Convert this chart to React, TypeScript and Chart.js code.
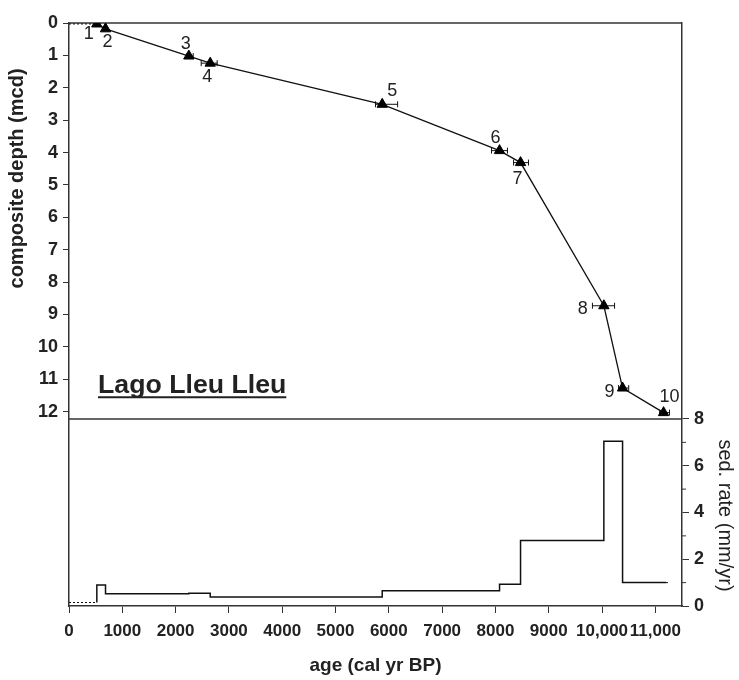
import React, { useEffect, useRef } from "react";
import { Chart, registerables } from "chart.js";

Chart.register(...registerables);

// ---------- data ----------
const sampleIds = ["1", "2", "3", "4", "5", "6", "7", "8", "9", "10"];
const ageCalBP = [522, 685, 2248, 2649, 5876, 8077, 8471, 10034, 10385, 11154];
const depthMcd = [0.03, 0.18, 1.02, 1.24, 2.51, 3.94, 4.31, 8.73, 11.27, 12.03];
const ageErrLow = [522, 685, 2210, 2480, 5750, 7926, 8340, 9820, 10310, 11080];
const ageErrHigh = [522, 685, 2330, 2780, 6165, 8226, 8620, 10235, 10500, 11265];

// extrapolated top (dotted)
const topExtrapAge = [0, 522];
const topExtrapDepth = [0.03, 0.03];

// sedimentation rate steps (value holds from each age to the next)
const rateAge = [522, 522, 685, 2248, 2649, 5876, 8077, 8471, 10034, 10385, 11200];
const rateValue = [0.15, 0.9, 0.52, 0.55, 0.38, 0.65, 0.93, 2.8, 7.05, 1.0, 1.0];
const rateHeadAge = [0, 522];
const rateHeadValue = [0.15, 0.15];
const rateTailAge = [11200, 11270];
const rateTailValue = [1.0, 1.0];

// ticks
const depthTicks = [0, 1, 2, 3, 4, 5, 6, 7, 8, 9, 10, 11, 12];
const ageTicks = [0, 1000, 2000, 3000, 4000, 5000, 6000, 7000, 8000, 9000, 10000, 11000];
const rateTicks = [0, 2, 4, 6, 8];
const rateMinorTicks = [1, 3, 5, 7];

// texts
const lakeName = "Lago Lleu Lleu";
const xTitle = "age (cal yr BP)";
const yTitle = "composite depth (mcd)";
const y2Title = "sed. rate (mm/yr)";

// label offsets (px) relative to each point
const labelOffsets: [number, number][] = [
  [-8, 10], [2, 13], [-3, -12], [-3, 14], [10, -13],
  [-4, -13], [-3, 16], [-21, 3], [-13, 4], [6, -16],
];

const FONT = "'Liberation Sans', Arial, Helvetica, sans-serif";
const INK = "#222";
const AXIS = "#333";

const pts = (xs: number[], ys: number[]) => xs.map((x, i) => ({ x, y: ys[i] }));

const decorPlugin = {
  id: "decor",
  beforeDatasetsDraw(chart: any) {
    const { ctx, chartArea, scales } = chart;
    const x = scales.x, yd = scales.yDepth, yr = scales.yRate;
    ctx.save();
    ctx.strokeStyle = AXIS;
    ctx.lineWidth = 1.5;
    ctx.beginPath();
    ctx.moveTo(chartArea.left, chartArea.top);
    ctx.lineTo(chartArea.right, chartArea.top);
    ctx.stroke();
    const yDiv = yr.getPixelForValue(rateTicks[rateTicks.length - 1]);
    ctx.beginPath();
    ctx.moveTo(chartArea.left, yDiv);
    ctx.lineTo(chartArea.right, yDiv);
    ctx.stroke();
    ctx.lineWidth = 1;
    rateMinorTicks.forEach((v) => {
      const py = yr.getPixelForValue(v);
      ctx.beginPath();
      ctx.moveTo(chartArea.right, py);
      ctx.lineTo(chartArea.right + 4, py);
      ctx.stroke();
    });
    ctx.strokeStyle = "#111";
    ctx.lineWidth = 1;
    ageCalBP.forEach((_, i) => {
      if (ageErrHigh[i] <= ageErrLow[i]) return;
      const py = yd.getPixelForValue(depthMcd[i]);
      const x1 = x.getPixelForValue(ageErrLow[i]);
      const x2 = x.getPixelForValue(ageErrHigh[i]);
      ctx.beginPath();
      ctx.moveTo(x1, py);
      ctx.lineTo(x2, py);
      ctx.moveTo(x1, py - 3);
      ctx.lineTo(x1, py + 3);
      ctx.moveTo(x2, py - 3);
      ctx.lineTo(x2, py + 3);
      ctx.stroke();
    });
    ctx.restore();
  },
  afterDatasetsDraw(chart: any) {
    const { ctx, chartArea, scales } = chart;
    const x = scales.x, yd = scales.yDepth, yr = scales.yRate;
    ctx.save();
    ctx.fillStyle = INK;
    ctx.font = `18px ${FONT}`;
    ctx.textAlign = "center";
    ctx.textBaseline = "middle";
    sampleIds.forEach((id, i) => {
      const px = x.getPixelForValue(ageCalBP[i]) + labelOffsets[i][0];
      const py = yd.getPixelForValue(depthMcd[i]) + labelOffsets[i][1];
      ctx.fillText(id, px, py);
    });
    ctx.font = `bold 26.7px ${FONT}`;
    ctx.textAlign = "left";
    ctx.textBaseline = "alphabetic";
    const lx = chartArea.left + 29;
    const ly = yd.getPixelForValue(11) + 14;
    ctx.fillText(lakeName, lx, ly);
    const w = ctx.measureText(lakeName).width;
    ctx.strokeStyle = INK;
    ctx.lineWidth = 2;
    ctx.beginPath();
    ctx.moveTo(lx, ly + 4);
    ctx.lineTo(lx + w, ly + 4);
    ctx.stroke();
    ctx.textAlign = "center";
    ctx.textBaseline = "middle";
    ctx.font = `bold 19px ${FONT}`;
    ctx.fillText(xTitle, (chartArea.left + chartArea.right) / 2, 666);
    const yDiv = yr.getPixelForValue(rateTicks[rateTicks.length - 1]);
    ctx.save();
    ctx.font = `bold 20px ${FONT}`;
    ctx.translate(17, yd.getPixelForValue(4.8));
    ctx.rotate(-Math.PI / 2);
    ctx.fillText(yTitle, 0, 0);
    ctx.restore();
    ctx.save();
    ctx.font = `20px ${FONT}`;
    ctx.translate(725, (yDiv + chartArea.bottom) / 2 + 3);
    ctx.rotate(Math.PI / 2);
    ctx.fillText(y2Title, 0, 0);
    ctx.restore();
    ctx.restore();
  },
};

export default function App() {
  const ref = useRef<HTMLCanvasElement>(null);
  useEffect(() => {
    if (!ref.current) return;
    const xTickFont = { family: FONT, size: 17, weight: "bold" as const };
    const yTickFont = { family: FONT, size: 18, weight: "bold" as const };
    const chart = new Chart(ref.current, {
      type: "scatter",
      data: {
        datasets: [
          {
            data: pts(ageCalBP, depthMcd),
            xAxisID: "x",
            yAxisID: "yDepth",
            showLine: true,
            borderColor: "#111",
            borderWidth: 1.3,
            pointStyle: "triangle",
            pointRadius: 6,
            pointBorderWidth: 1,
            pointBackgroundColor: "#000",
            pointBorderColor: "#000",
          },
          {
            data: pts(topExtrapAge, topExtrapDepth),
            xAxisID: "x",
            yAxisID: "yDepth",
            showLine: true,
            borderColor: "#111",
            borderWidth: 1,
            borderDash: [2, 2],
            pointRadius: 0,
          },
          {
            data: pts(rateAge, rateValue),
            xAxisID: "x",
            yAxisID: "yRate",
            showLine: true,
            stepped: "before",
            borderColor: "#111",
            borderWidth: 1.5,
            pointRadius: 0,
          },
          {
            data: pts(rateHeadAge, rateHeadValue),
            xAxisID: "x",
            yAxisID: "yRate",
            showLine: true,
            borderColor: "#111",
            borderWidth: 1,
            borderDash: [2, 2],
            pointRadius: 0,
          },
          {
            data: pts(rateTailAge, rateTailValue),
            xAxisID: "x",
            yAxisID: "yRate",
            showLine: true,
            borderColor: "#111",
            borderWidth: 1,
            borderDash: [2, 3],
            pointRadius: 0,
          },
        ],
      },
      options: {
        responsive: false,
        animation: false,
        layout: { padding: { top: 23, left: 0, right: 0, bottom: 0 } },
        plugins: { legend: { display: false }, tooltip: { enabled: false } },
        scales: {
          x: {
            type: "linear",
            position: "bottom",
            min: 0,
            max: 11500,
            afterBuildTicks: (s: any) => {
              s.ticks = ageTicks.map((v) => ({ value: v }));
            },
            afterFit: (s: any) => {
              s.height = 74;
            },
            ticks: {
              autoSkip: false,
              maxRotation: 0,
              color: INK,
              font: xTickFont,
              padding: 8,
              callback: (v: any) => (Number(v) >= 10000 ? Number(v).toLocaleString("en-US") : String(v)),
            },
            grid: { drawOnChartArea: false, drawTicks: true, tickLength: 7, color: AXIS, tickWidth: 1 },
            border: { display: true, color: AXIS, width: 1.5 },
          },
          yDepth: {
            type: "linear",
            position: "left",
            reverse: true,
            min: 0,
            max: 18,
            afterBuildTicks: (s: any) => {
              s.ticks = depthTicks.map((v) => ({ value: v }));
            },
            afterFit: (s: any) => {
              s.width = 69;
            },
            ticks: { autoSkip: false, color: INK, font: yTickFont, padding: 5 },
            grid: { drawOnChartArea: false, drawTicks: true, tickLength: 6, color: AXIS, tickWidth: 1 },
            border: { display: true, color: AXIS, width: 1.5 },
          },
          yRate: {
            type: "linear",
            position: "right",
            min: 0,
            max: 24.94,
            afterBuildTicks: (s: any) => {
              s.ticks = rateTicks.map((v) => ({ value: v }));
            },
            afterFit: (s: any) => {
              s.width = 57;
            },
            ticks: { autoSkip: false, color: INK, font: yTickFont, padding: 5 },
            grid: { drawOnChartArea: false, drawTicks: true, tickLength: 7, color: AXIS, tickWidth: 1 },
            border: { display: true, color: AXIS, width: 1.5 },
          },
        },
      },
      plugins: [decorPlugin],
    } as any);
    return () => chart.destroy();
  }, []);
  return (
    <div style={{ position: "absolute", left: 0, top: 0, width: 739, height: 680, background: "#fff" }}>
      <canvas ref={ref} width={739} height={680} style={{ display: "block" }} />
    </div>
  );
}
